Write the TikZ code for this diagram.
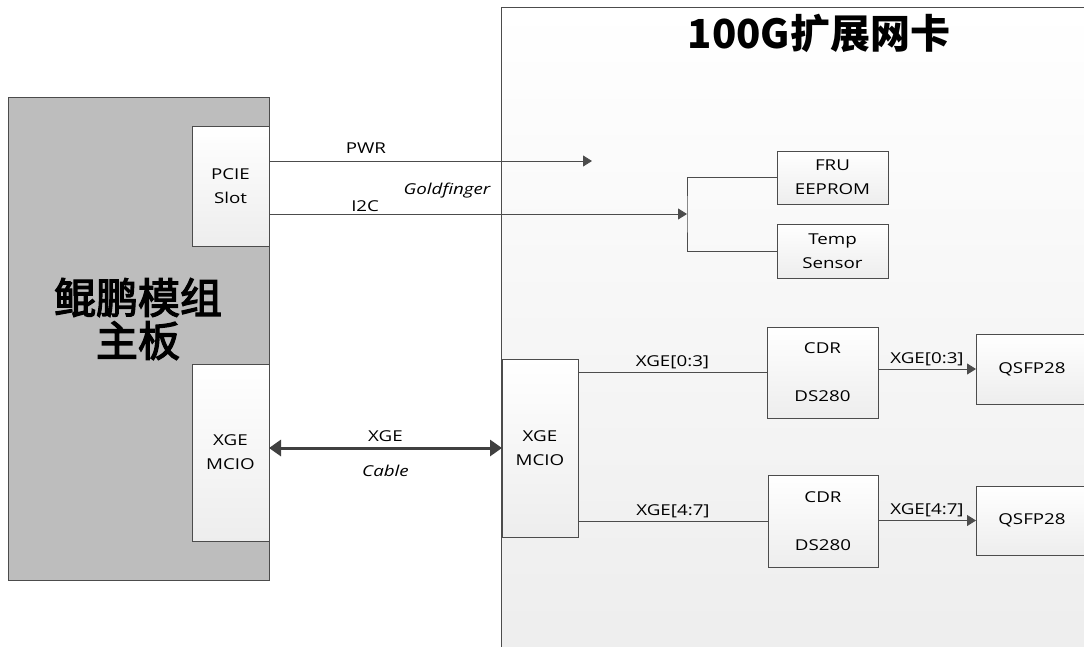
\documentclass[tikz,border=0pt]{standalone}
\usepackage{fontspec}
\setmainfont{Open Sans}
\newfontfamily\lblfont{Open Sans}[FakeStretch=1.25]
\newfontfamily\cjkfont{Noto Sans CJK SC}
\newfontfamily\cjkboard{Noto Sans CJK SC}[FakeBold=3]
\usepackage{tikz}
\usetikzlibrary{arrows.meta}
\usetikzlibrary{positioning}

\tikzset{
    box/.style={draw=black!70,line width=0.9pt,top color=white,bottom color=black!7,
        inner sep=0pt,outer sep=0pt,align=center,font=\lblfont\fontsize{15}{24}\selectfont},
    wire/.style={draw=black!70,line width=0.9pt},
    tip/.style={-{Triangle[length=9pt,width=11pt]}},
    lbl/.style={font=\lblfont\fontsize{15}{17}\selectfont,inner sep=1pt},
}

\begin{document}
\begin{tikzpicture}[x=1pt,y=-1pt]
            \useasboundingbox (0,0) rectangle (1084,646);
            \clip (0,0) rectangle (1084,646);
            \fill[white] (0,0) rectangle (1084,646);

            \shade[top color=white,bottom color=black!7] (501,7) rectangle (1100,660);
            \draw[wire] (501,660)--(501,7)--(1100,7);
            \filldraw[fill=black!26,draw=black!70,line width=0.9pt] (8,97) rectangle (269,580);

            \node[font=\cjkfont\bfseries\fontsize{40}{42}\selectfont] (title) at (819,33) {100G扩展网卡};
            \node[font=\cjkboard\fontsize{42}{43}\selectfont,align=center] (board) at (138,319) {鲲鹏模组\\主板};

            \node[box,minimum width=77pt,minimum height=120pt] (pcie) at (230.5,186) {PCIE\\Slot};
            \node[box,minimum width=77pt,minimum height=177pt] (mcioL) at (230.5,452.5) {XGE\\MCIO};
            \node[box,minimum width=76pt,minimum height=178pt] (mcioR) at (540,448) {XGE\\MCIO};
            \node[box,minimum width=111pt,minimum height=53pt] (fru) at (832.5,177.5) {FRU\\EEPROM};
            \node[box,minimum width=111pt,minimum height=54pt] (temp) at (832.5,251) {Temp\\Sensor};
            \node[box,minimum width=111pt,minimum height=91pt,font=\lblfont\fontsize{15}{48}\selectfont] (cdrA) at (822.5,372.5) {CDR\\DS280};
            \node[box,minimum width=110pt,minimum height=92pt,font=\lblfont\fontsize{15}{48}\selectfont] (cdrB) at (823,521) {CDR\\DS280};
            \node[box,minimum width=112pt,minimum height=70pt] (qsfpA) at (1032,369) {QSFP28};
            \node[box,minimum width=112pt,minimum height=69pt] (qsfpB) at (1032,520.5) {QSFP28};

            \coordinate (pwr) at (592,161);
            \coordinate (fork) at (687,214);

            \draw[wire,tip] (pcie.east |- pwr)--node[lbl,pos=0.3,above=6pt]{PWR}(pwr);
            \draw[wire,tip] (pcie.east |- fork)--node[lbl,pos=0.23,above=1pt]{I2C}(fork);
            \node[lbl,font=\lblfont\fontsize{15}{17}\selectfont\itshape] (gold) at (447,191) {Goldfinger};
            \draw[wire] (fru.west) -| (fork) |- (temp.west);

            \draw[draw=black!75,line width=3pt,{Triangle[length=12pt,width=16pt]}-{Triangle[length=12pt,width=16pt]}]
                (mcioR.west -| mcioL.east)--node[lbl,above=4pt]{XGE}node[lbl,below=15pt,font=\lblfont\fontsize{15}{17}\selectfont\itshape]{Cable}(mcioR.west);

            \draw[wire] (mcioR.east |- cdrA.west)--node[lbl,above=2pt]{XGE[0:3]}(cdrA.west);
            \draw[wire] (mcioR.east |- cdrB.west)--node[lbl,above=2pt]{XGE[4:7]}(cdrB.west);
            \draw[wire,tip] (cdrA.east |- qsfpA.west)--node[lbl,above=2pt]{XGE[0:3]}(qsfpA.west);
            \draw[wire,tip] (cdrB.east |- qsfpB.west)--node[lbl,above=2pt]{XGE[4:7]}(qsfpB.west);
\end{tikzpicture}
\end{document}
